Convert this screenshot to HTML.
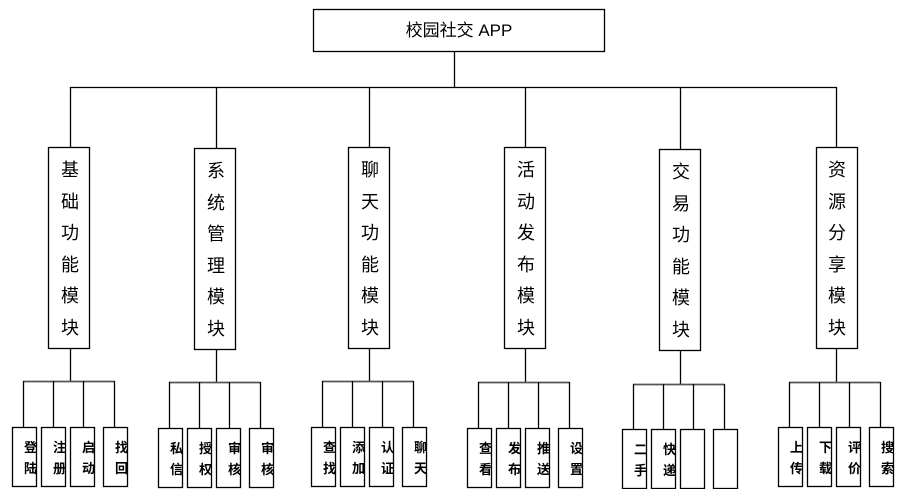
<!DOCTYPE html>
<html><head><meta charset="utf-8"><style>
html,body{margin:0;padding:0;background:#fff;}
svg{display:block;}
text{font-family:"Liberation Sans","Noto Sans CJK SC",sans-serif;fill:#000;}
</style></head><body>
<svg width="910" height="489" viewBox="0 0 910 489" xmlns="http://www.w3.org/2000/svg">
<defs>
<clipPath id="c"><rect x="0" y="0" width="24" height="60"/></clipPath>
</defs>
<g stroke="#000" stroke-width="1.3" fill="none">
<rect x="313.5" y="9.5" width="291" height="42" fill="#fff"/>
<line x1="454.5" y1="51" x2="454.5" y2="87.5"/>
<line x1="70" y1="87.5" x2="837" y2="87.5"/>
<line x1="70.5" y1="87" x2="70.5" y2="148"/>
<line x1="216.5" y1="87" x2="216.5" y2="149"/>
<line x1="369.5" y1="87" x2="369.5" y2="148"/>
<line x1="525.5" y1="87" x2="525.5" y2="148"/>
<line x1="680.5" y1="87" x2="680.5" y2="150"/>
<line x1="836.5" y1="87" x2="836.5" y2="148"/>
<rect x="48.5" y="147.5" width="41" height="201"/>
<rect x="194.5" y="148.5" width="41" height="201"/>
<rect x="348.5" y="147.5" width="41" height="201"/>
<rect x="504.5" y="147.5" width="41" height="201"/>
<rect x="659.5" y="149.5" width="41" height="201"/>
<rect x="816.5" y="147.5" width="41" height="201"/>
<line x1="70.5" y1="348" x2="70.5" y2="381"/>
<line x1="216.5" y1="349" x2="216.5" y2="382"/>
<line x1="369.5" y1="348" x2="369.5" y2="381"/>
<line x1="525.5" y1="348" x2="525.5" y2="382"/>
<line x1="680.5" y1="350" x2="680.5" y2="384"/>
<line x1="836.5" y1="348" x2="836.5" y2="382"/>
</g>
<text x="459" y="36" font-size="17" text-anchor="middle">校园社交 APP</text>
<g font-size="18" text-anchor="middle">
<text x="70" y="176">基</text><text x="70" y="208">础</text><text x="70" y="239">功</text><text x="70" y="271">能</text><text x="70" y="302">模</text><text x="70" y="334">块</text>
<text x="216" y="177">系</text><text x="216" y="209">统</text><text x="216" y="240">管</text><text x="216" y="272">理</text><text x="216" y="303">模</text><text x="216" y="335">块</text>
<text x="370" y="176">聊</text><text x="370" y="208">天</text><text x="370" y="239">功</text><text x="370" y="271">能</text><text x="370" y="302">模</text><text x="370" y="334">块</text>
<text x="526" y="176">活</text><text x="526" y="208">动</text><text x="526" y="239">发</text><text x="526" y="271">布</text><text x="526" y="302">模</text><text x="526" y="334">块</text>
<text x="681" y="178">交</text><text x="681" y="210">易</text><text x="681" y="241">功</text><text x="681" y="273">能</text><text x="681" y="304">模</text><text x="681" y="336">块</text>
<text x="837" y="176">资</text><text x="837" y="208">源</text><text x="837" y="239">分</text><text x="837" y="271">享</text><text x="837" y="302">模</text><text x="837" y="334">块</text>
</g>
<g id="groups" stroke="#000" stroke-width="1.3" fill="none"></g>
<g id="labels"></g>
<script>
var G=[
 {y:381,by:427,bx:[12,41,70,103],lx:[23,53,83,114],t:[["登","陆"],["注","册"],["启","动"],["找","回"]]},
 {y:382,by:428,bx:[158,187,216,249],lx:[169,199,229,260],t:[["私","信"],["授","权"],["审","核"],["审","核"]]},
 {y:381,by:427,bx:[311,340,369,402],lx:[322,352,382,413],t:[["查","找"],["添","加"],["认","证"],["聊","天"]]},
 {y:382,by:428,bx:[467,496,525,558],lx:[478,508,538,569],t:[["查","看"],["发","布"],["推","送"],["设","置"]]},
 {y:384,by:429,bx:[622,651,680,713],lx:[633,663,693,724],t:[["二","手"],["快","递"],["",""],["",""]]},
 {y:382,by:427,bx:[778,807,836,869],lx:[789,819,849,880],t:[["上","传"],["下","载"],["评","价"],["搜","索"]]}
];
var ns="http://www.w3.org/2000/svg",g=document.getElementById("groups"),L=document.getElementById("labels");
function el(p,n,a,tx){var e=document.createElementNS(ns,n);for(var k in a)e.setAttribute(k,a[k]);if(tx)e.textContent=tx;p.appendChild(e);return e;}
G.forEach(function(o){
 el(g,"line",{x1:o.lx[0],y1:o.y+.5,x2:o.lx[3]+.5,y2:o.y+.5,stroke:"#555","stroke-width":1.8});
 for(var i=0;i<4;i++){
  el(g,"line",{x1:o.lx[i]+.5,y1:o.y,x2:o.lx[i]+.5,y2:o.by});
  el(g,"rect",{x:o.bx[i]+.5,y:o.by+.5,width:24,height:59,fill:"#fff"});
  var gg=el(L,"g",{transform:"translate("+o.bx[i]+","+o.by+")","clip-path":"url(#c)"});
  el(gg,"text",{x:12,y:25,"font-size":13,"font-weight":"bold"},o.t[i][0]);
  el(gg,"text",{x:12,y:46,"font-size":13,"font-weight":"bold"},o.t[i][1]);
 }
});
</script>
</svg>
</body></html>
